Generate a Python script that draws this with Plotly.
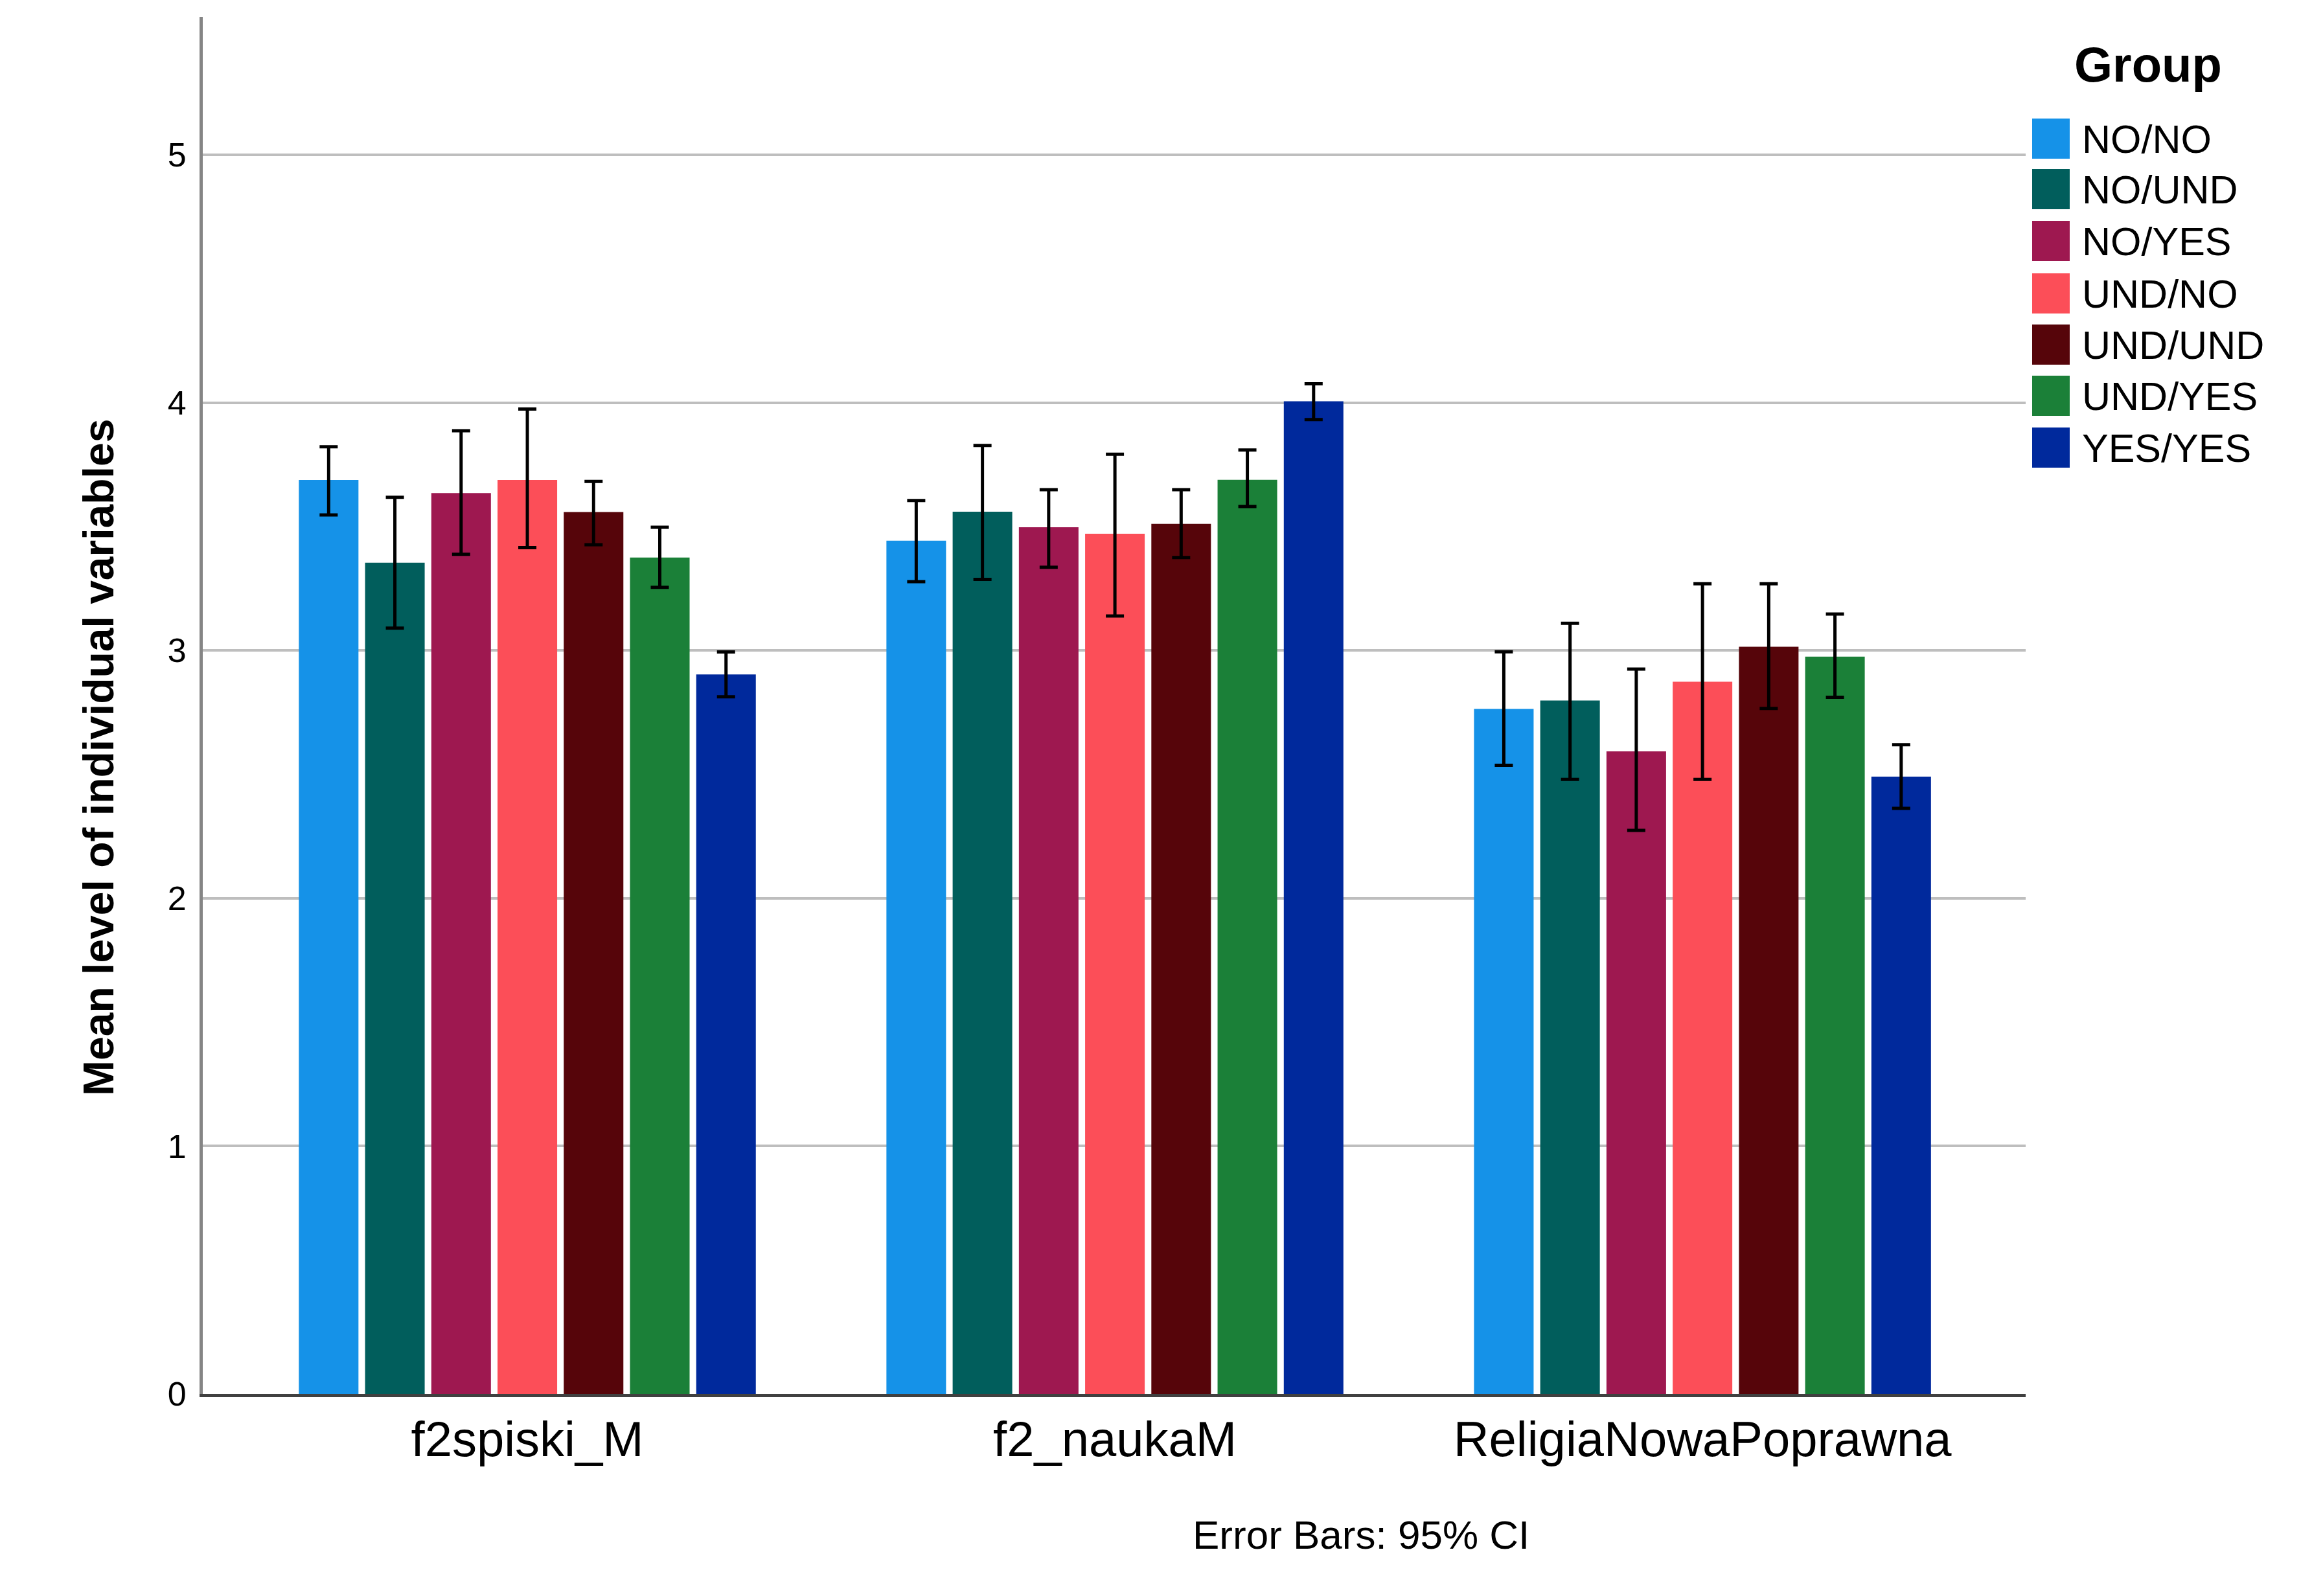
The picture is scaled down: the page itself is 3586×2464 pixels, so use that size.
import plotly.graph_objects as go

# ---------------- data ----------------
categories = ["f2spiski_M", "f2_naukaM", "ReligiaNowaPoprawna"]
groups = ["NO/NO", "NO/UND", "NO/YES", "UND/NO", "UND/UND", "UND/YES", "YES/YES"]
colors = ["#1592E8", "#015E5C", "#9E1850", "#FC4E58", "#56050A", "#1B8038", "#00299C"]

# means per group (one value per category)
mean_no_no = [3.688, 3.443, 2.764]
mean_no_und = [3.354, 3.560, 2.798]
mean_no_yes = [3.635, 3.497, 2.593]
mean_und_no = [3.688, 3.471, 2.874]
mean_und_und = [3.559, 3.511, 3.015]
mean_und_yes = [3.375, 3.689, 2.975]
mean_yes_yes = [2.903, 4.006, 2.491]

# 95% CI upper bounds
ci_hi_no_no = [3.822, 3.605, 2.995]
ci_hi_no_und = [3.618, 3.827, 3.110]
ci_hi_no_yes = [3.887, 3.649, 2.925]
ci_hi_und_no = [3.974, 3.792, 3.269]
ci_hi_und_und = [3.682, 3.649, 3.269]
ci_hi_und_yes = [3.497, 3.809, 3.147]
ci_hi_yes_yes = [2.994, 4.076, 2.620]

# 95% CI lower bounds
ci_lo_no_no = [3.547, 3.278, 2.537]
ci_lo_no_und = [3.090, 3.287, 2.480]
ci_lo_no_yes = [3.388, 3.336, 2.274]
ci_lo_und_no = [3.415, 3.139, 2.480]
ci_lo_und_und = [3.427, 3.375, 2.766]
ci_lo_und_yes = [3.255, 3.581, 2.811]
ci_lo_yes_yes = [2.813, 3.932, 2.363]

y_ticks = [0, 1, 2, 3, 4, 5]
y_title = "Mean level of individual variables"
legend_title = "Group"
note_text = "Error Bars: 95% CI"

means = [mean_no_no, mean_no_und, mean_no_yes, mean_und_no, mean_und_und, mean_und_yes, mean_yes_yes]
ci_hi = [ci_hi_no_no, ci_hi_no_und, ci_hi_no_yes, ci_hi_und_no, ci_hi_und_und, ci_hi_und_yes, ci_hi_yes_yes]
ci_lo = [ci_lo_no_no, ci_lo_no_und, ci_lo_no_yes, ci_lo_und_no, ci_lo_und_und, ci_lo_und_yes, ci_lo_yes_yes]

# ---------------- layout geometry (pixels) ----------------
W, H = 3586, 2464
PL, PR, PT, PB = 313, 3127, 26, 2152
FONT = "Liberation Sans, Arial, sans-serif"


def px(x):
    return (x - PL) / (PR - PL)


def py(y):
    return (PB - y) / (PB - PT)


fig = go.Figure()
for g, c, m, hi, lo in zip(groups, colors, means, ci_hi, ci_lo):
    fig.add_trace(go.Bar(
        name=g, x=categories, y=m, marker=dict(color=c, line=dict(width=0)),
        showlegend=False,
        error_y=dict(type="data", symmetric=False,
                     array=[h - v for h, v in zip(hi, m)],
                     arrayminus=[v - l for v, l in zip(m, lo)],
                     color="#000000", thickness=5, width=14),
    ))

shapes = []
annotations = []

# manual legend
annotations.append(dict(text="<b>" + legend_title + "</b>", xref="paper", yref="paper",
                        x=px(3316), y=py(100), xanchor="center", yanchor="middle",
                        showarrow=False, font=dict(family=FONT, size=76, color="#000000")))
item_y = [214, 292, 372, 453, 532, 611, 691]
for g, c, yy in zip(groups, colors, item_y):
    shapes.append(dict(type="rect", xref="paper", yref="paper",
                       x0=px(3137), x1=px(3195), y0=py(yy + 31), y1=py(yy - 31),
                       fillcolor=c, line=dict(width=0)))
    annotations.append(dict(text=g, xref="paper", yref="paper", x=px(3212), y=py(yy + 1),
                            xanchor="left", yanchor="middle", showarrow=False,
                            font=dict(family=FONT, size=61, color="#000000")))

# y-axis title
annotations.append(dict(text="<b>" + y_title + "</b>", xref="paper", yref="paper",
                        x=px(152), y=py(1170), xanchor="center", yanchor="middle",
                        textangle=-90, showarrow=False,
                        font=dict(family=FONT, size=66, color="#000000")))
# note
annotations.append(dict(text=note_text, xref="paper", yref="paper",
                        x=px(2101), y=py(2369), xanchor="center", yanchor="middle",
                        showarrow=False, font=dict(family=FONT, size=62, color="#000000")))

fig.update_layout(
    width=W, height=H, autosize=False,
    margin=dict(l=PL, r=W - PR, t=PT, b=H - PB, pad=0),
    paper_bgcolor="#FFFFFF", plot_bgcolor="#FFFFFF",
    barmode="group", bargap=0.211, bargroupgap=0.10,
    font=dict(family=FONT, color="#000000"),
    shapes=shapes, annotations=annotations,
    xaxis=dict(type="category", range=[-0.5524, 2.550], showgrid=False,
               showline=True, linecolor="#404040", linewidth=5,
               ticks="", tickfont=dict(family=FONT, size=76, color="#000000"),
               ticklabelstandoff=0, zeroline=False),
    yaxis=dict(range=[0, 5.557], tickvals=y_ticks, ticktext=[str(t) for t in y_ticks],
               showgrid=True, gridcolor="#BEBEBE", gridwidth=4,
               showline=True, linecolor="#858585", linewidth=5,
               ticks="", tickfont=dict(family=FONT, size=52, color="#000000"),
               ticklabelstandoff=10, zeroline=False),
)

fig.write_html("out.html", config={"displayModeBar": False},
               post_script="document.body.style.margin='0';document.documentElement.style.overflow='hidden';")
